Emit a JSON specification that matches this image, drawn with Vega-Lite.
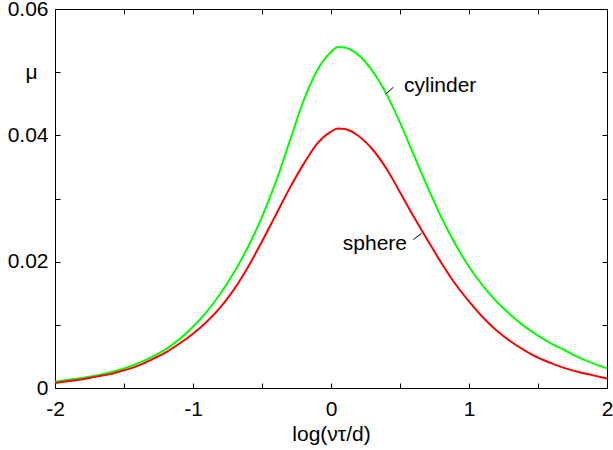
{
  "$schema": "https://vega.github.io/schema/vega-lite/v6.json",
  "width": 552,
  "height": 379,
  "autosize": {"type": "none"},
  "padding": {"left": 55, "top": 9, "right": 6, "bottom": 62},
  "background": "white",
  "config": {
    "font": "Liberation Sans",
    "view": {"stroke": "black", "strokeWidth": 1},
    "axis": {
      "domainColor": "black",
      "domainWidth": 1,
      "tickColor": "black",
      "tickWidth": 1,
      "tickSize": -5,
      "grid": false,
      "labelFont": "Liberation Sans",
      "labelFontSize": 21,
      "labelColor": "black",
      "titleFont": "Liberation Sans",
      "titleFontSize": 21,
      "titleFontWeight": "normal",
      "titleColor": "black"
    }
  },
  "datasets": {
    "curves": [
      {"v": -2.0, "mu": 0.0010, "curve": "cylinder"},
      {"v": -1.9, "mu": 0.0013, "curve": "cylinder"},
      {"v": -1.8, "mu": 0.0016, "curve": "cylinder"},
      {"v": -1.7, "mu": 0.0020, "curve": "cylinder"},
      {"v": -1.6, "mu": 0.0025, "curve": "cylinder"},
      {"v": -1.5, "mu": 0.0031, "curve": "cylinder"},
      {"v": -1.4, "mu": 0.0039, "curve": "cylinder"},
      {"v": -1.3, "mu": 0.0049, "curve": "cylinder"},
      {"v": -1.2, "mu": 0.0061, "curve": "cylinder"},
      {"v": -1.1, "mu": 0.0077, "curve": "cylinder"},
      {"v": -1.0, "mu": 0.0097, "curve": "cylinder"},
      {"v": -0.9, "mu": 0.0121, "curve": "cylinder"},
      {"v": -0.8, "mu": 0.0150, "curve": "cylinder"},
      {"v": -0.7, "mu": 0.0184, "curve": "cylinder"},
      {"v": -0.6, "mu": 0.0224, "curve": "cylinder"},
      {"v": -0.5, "mu": 0.0271, "curve": "cylinder"},
      {"v": -0.4, "mu": 0.0326, "curve": "cylinder"},
      {"v": -0.3, "mu": 0.0390, "curve": "cylinder"},
      {"v": -0.2, "mu": 0.0454, "curve": "cylinder"},
      {"v": -0.1, "mu": 0.0503, "curve": "cylinder"},
      {"v": 0.0, "mu": 0.0532, "curve": "cylinder"},
      {"v": 0.05, "mu": 0.0540, "curve": "cylinder"},
      {"v": 0.1, "mu": 0.0539, "curve": "cylinder"},
      {"v": 0.2, "mu": 0.0527, "curve": "cylinder"},
      {"v": 0.3, "mu": 0.0502, "curve": "cylinder"},
      {"v": 0.4, "mu": 0.0466, "curve": "cylinder"},
      {"v": 0.5, "mu": 0.0420, "curve": "cylinder"},
      {"v": 0.6, "mu": 0.0369, "curve": "cylinder"},
      {"v": 0.7, "mu": 0.0318, "curve": "cylinder"},
      {"v": 0.8, "mu": 0.0270, "curve": "cylinder"},
      {"v": 0.9, "mu": 0.0228, "curve": "cylinder"},
      {"v": 1.0, "mu": 0.0192, "curve": "cylinder"},
      {"v": 1.1, "mu": 0.0162, "curve": "cylinder"},
      {"v": 1.2, "mu": 0.0137, "curve": "cylinder"},
      {"v": 1.3, "mu": 0.0116, "curve": "cylinder"},
      {"v": 1.4, "mu": 0.0098, "curve": "cylinder"},
      {"v": 1.5, "mu": 0.0083, "curve": "cylinder"},
      {"v": 1.6, "mu": 0.0070, "curve": "cylinder"},
      {"v": 1.7, "mu": 0.0059, "curve": "cylinder"},
      {"v": 1.8, "mu": 0.0048, "curve": "cylinder"},
      {"v": 1.9, "mu": 0.0039, "curve": "cylinder"},
      {"v": 2.0, "mu": 0.0031, "curve": "cylinder"},
      {"v": -2.0, "mu": 0.0008, "curve": "sphere"},
      {"v": -1.9, "mu": 0.0011, "curve": "sphere"},
      {"v": -1.8, "mu": 0.0014, "curve": "sphere"},
      {"v": -1.7, "mu": 0.0018, "curve": "sphere"},
      {"v": -1.6, "mu": 0.0022, "curve": "sphere"},
      {"v": -1.5, "mu": 0.0028, "curve": "sphere"},
      {"v": -1.4, "mu": 0.0035, "curve": "sphere"},
      {"v": -1.3, "mu": 0.0045, "curve": "sphere"},
      {"v": -1.2, "mu": 0.0056, "curve": "sphere"},
      {"v": -1.1, "mu": 0.0070, "curve": "sphere"},
      {"v": -1.0, "mu": 0.0086, "curve": "sphere"},
      {"v": -0.9, "mu": 0.0105, "curve": "sphere"},
      {"v": -0.8, "mu": 0.0128, "curve": "sphere"},
      {"v": -0.7, "mu": 0.0157, "curve": "sphere"},
      {"v": -0.6, "mu": 0.0192, "curve": "sphere"},
      {"v": -0.5, "mu": 0.0232, "curve": "sphere"},
      {"v": -0.4, "mu": 0.0274, "curve": "sphere"},
      {"v": -0.3, "mu": 0.0316, "curve": "sphere"},
      {"v": -0.2, "mu": 0.0354, "curve": "sphere"},
      {"v": -0.1, "mu": 0.0387, "curve": "sphere"},
      {"v": 0.0, "mu": 0.0406, "curve": "sphere"},
      {"v": 0.05, "mu": 0.0411, "curve": "sphere"},
      {"v": 0.1, "mu": 0.0410, "curve": "sphere"},
      {"v": 0.2, "mu": 0.0399, "curve": "sphere"},
      {"v": 0.3, "mu": 0.0378, "curve": "sphere"},
      {"v": 0.4, "mu": 0.0348, "curve": "sphere"},
      {"v": 0.5, "mu": 0.0310, "curve": "sphere"},
      {"v": 0.6, "mu": 0.0271, "curve": "sphere"},
      {"v": 0.7, "mu": 0.0234, "curve": "sphere"},
      {"v": 0.8, "mu": 0.0198, "curve": "sphere"},
      {"v": 0.9, "mu": 0.0165, "curve": "sphere"},
      {"v": 1.0, "mu": 0.0137, "curve": "sphere"},
      {"v": 1.1, "mu": 0.0112, "curve": "sphere"},
      {"v": 1.2, "mu": 0.0091, "curve": "sphere"},
      {"v": 1.3, "mu": 0.0074, "curve": "sphere"},
      {"v": 1.4, "mu": 0.0060, "curve": "sphere"},
      {"v": 1.5, "mu": 0.0048, "curve": "sphere"},
      {"v": 1.6, "mu": 0.0039, "curve": "sphere"},
      {"v": 1.7, "mu": 0.0031, "curve": "sphere"},
      {"v": 1.8, "mu": 0.0025, "curve": "sphere"},
      {"v": 1.9, "mu": 0.0020, "curve": "sphere"},
      {"v": 2.0, "mu": 0.0015, "curve": "sphere"}
    ],
    "leaders": [
      {"v": 0.399, "mu": 0.0466, "v2": 0.452, "mu2": 0.0476},
      {"v": 0.597, "mu": 0.0235, "v2": 0.657, "mu2": 0.0245}
    ],
    "labels": [
      {"v": 0.529, "mu": 0.0468, "text": "cylinder", "side": "left"},
      {"v": 0.551, "mu": 0.0218, "text": "sphere", "side": "right"}
    ]
  },
  "resolve": {"axis": {"x": "independent", "y": "independent"}},
  "layer": [
    {
      "data": {"name": "curves"},
      "mark": {"type": "line", "strokeWidth": 2, "interpolate": "monotone"},
      "encoding": {
        "x": {
          "field": "v", "type": "quantitative",
          "scale": {"domain": [-2, 2], "nice": false, "zero": false},
          "axis": {
            "orient": "bottom",
            "values": [-2, -1.5, -1, -0.5, 0, 0.5, 1, 1.5, 2],
            "labelExpr": "datum.value % 1 == 0 ? '' + datum.value : ''",
            "labelPadding": 15,
            "labelFlush": false,
            "labelOverlap": false,
            "title": "log(ντ/d)",
            "titleBaseline": "alphabetic",
            "titleY": 52
          }
        },
        "y": {
          "field": "mu", "type": "quantitative",
          "scale": {"domain": [0, 0.06], "nice": false, "zero": true},
          "axis": {
            "orient": "left",
            "values": [0, 0.01, 0.02, 0.03, 0.04, 0.05, 0.06],
            "labelExpr": "datum.value == 0 ? '0' : (round(datum.value * 100) % 2 == 0 ? format(datum.value, '.2f') : '')",
            "labelPadding": 12,
            "labelFlush": false,
            "labelOverlap": false,
            "title": "μ",
            "titleAngle": 0,
            "titleAlign": "center",
            "titleBaseline": "middle",
            "titleX": -24,
            "titleY": 63
          }
        },
        "color": {
          "field": "curve", "type": "nominal",
          "scale": {"domain": ["cylinder", "sphere"], "range": ["#00ff00", "#ff0000"]},
          "legend": null
        }
      }
    },
    {
      "data": {"name": "leaders"},
      "mark": {"type": "rule", "color": "black", "strokeWidth": 1},
      "encoding": {
        "x": {
          "field": "v", "type": "quantitative",
          "axis": {
            "orient": "top",
            "values": [-2, -1.5, -1, -0.5, 0, 0.5, 1, 1.5, 2],
            "labels": false,
            "domain": true,
            "title": null
          }
        },
        "y": {
          "field": "mu", "type": "quantitative",
          "axis": {
            "orient": "right",
            "values": [0, 0.01, 0.02, 0.03, 0.04, 0.05, 0.06],
            "labels": false,
            "domain": true,
            "title": null
          }
        },
        "x2": {"field": "v2"},
        "y2": {"field": "mu2"}
      }
    },
    {
      "data": {"name": "labels"},
      "transform": [{"filter": "datum.side == 'left'"}],
      "mark": {"type": "text", "align": "left", "baseline": "alphabetic", "fontSize": 21, "font": "Liberation Sans", "color": "black"},
      "encoding": {
        "x": {"field": "v", "type": "quantitative", "axis": null},
        "y": {"field": "mu", "type": "quantitative", "axis": null},
        "text": {"field": "text"}
      }
    },
    {
      "data": {"name": "labels"},
      "transform": [{"filter": "datum.side == 'right'"}],
      "mark": {"type": "text", "align": "right", "baseline": "alphabetic", "fontSize": 21, "font": "Liberation Sans", "color": "black"},
      "encoding": {
        "x": {"field": "v", "type": "quantitative", "axis": null},
        "y": {"field": "mu", "type": "quantitative", "axis": null},
        "text": {"field": "text"}
      }
    }
  ]
}
